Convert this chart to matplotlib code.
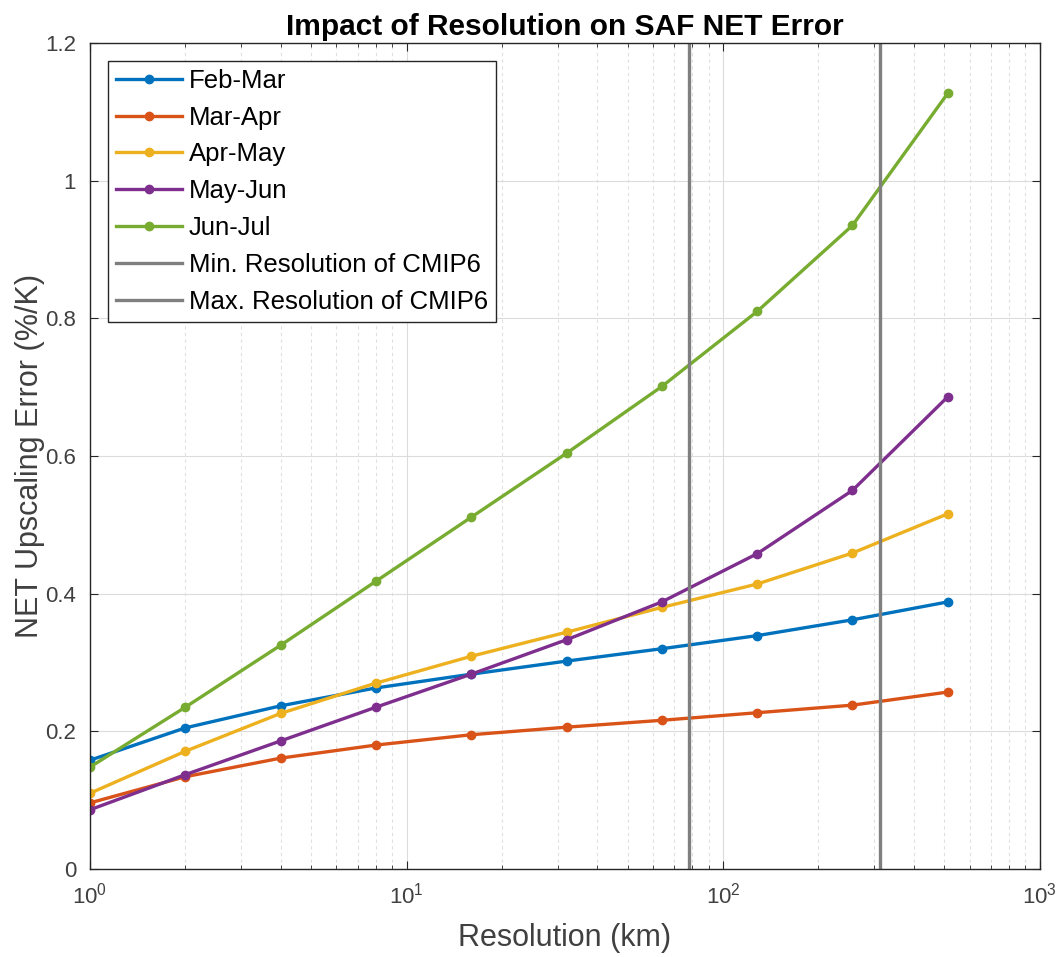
import matplotlib.pyplot as plt
import numpy as np

plt.rcParams['font.family'] = ['Liberation Sans', 'DejaVu Sans']
plt.rcParams['mathtext.fontset'] = 'custom'
plt.rcParams['mathtext.rm'] = 'Liberation Sans'
plt.rcParams['mathtext.it'] = 'Liberation Sans'
plt.rcParams['mathtext.default'] = 'regular'

# resolution steps (km)
res = [1, 2, 4, 8, 16, 32, 64, 128, 256, 512]

feb_mar = [0.158, 0.205, 0.237, 0.263, 0.283, 0.302, 0.320, 0.339, 0.362, 0.388]
mar_apr = [0.096, 0.134, 0.161, 0.180, 0.195, 0.206, 0.216, 0.227, 0.238, 0.257]
apr_may = [0.110, 0.171, 0.226, 0.270, 0.309, 0.344, 0.380, 0.414, 0.459, 0.516]
may_jun = [0.086, 0.137, 0.186, 0.235, 0.283, 0.333, 0.388, 0.458, 0.550, 0.686]
jun_jul = [0.148, 0.235, 0.325, 0.418, 0.511, 0.604, 0.701, 0.810, 0.935, 1.127]

labels = ['Feb-Mar', 'Mar-Apr', 'Apr-May', 'May-Jun', 'Jun-Jul']
colores = ['#0072BD', '#D95319', '#EDB120', '#7E2F8E', '#77AC30']

cmip6_min = 78
cmip6_max = 313

fig = plt.figure(figsize=(10.61, 9.57), dpi=100)
ax = fig.add_axes([0.0848, 0.092, 0.8952, 0.863])

series = [feb_mar, mar_apr, apr_may, may_jun, jun_jul]
for s, lab, c in zip(series, labels, colores):
    ax.plot(res, s, '-o', color=c, lw=2.4, ms=6, label=lab)

ax.axvline(cmip6_min, color='#7f7f7f', lw=2.4, label='Min. Resolution of CMIP6')
ax.axvline(cmip6_max, color='#7f7f7f', lw=2.4, label='Max. Resolution of CMIP6')

ax.set_xscale('log')
ax.set_xlim(1, 1000)
ax.set_ylim(0, 1.2)
ax.set_yticks(np.arange(0, 1.21, 0.2))
ax.set_yticklabels(['0', '0.2', '0.4', '0.6', '0.8', '1', '1.2'])
ax.set_xticks([1, 10, 100, 1000])
ax.set_xticklabels(['$10^0$', '$10^1$', '$10^2$', '$10^3$'])

ax.grid(True, which='major', color='#dcdcdc', lw=0.8)
ax.grid(True, which='minor', axis='x', color='#e0e0e0', lw=0.8, ls=(0, (3, 3)))
ax.set_axisbelow(True)

ax.tick_params(which='both', direction='in', top=True, right=True,
               labelsize=16, labelcolor='#404040', color='#262626')
ax.tick_params(which='major', length=6)
ax.tick_params(which='minor', length=3)
ax.tick_params(axis='x', pad=10)
ax.tick_params(axis='y', pad=10)
for sp in ax.spines.values():
    sp.set_color('#262626')
    sp.set_linewidth(1.0)

ax.set_xlabel('Resolution (km)', fontsize=22, color='#404040', labelpad=10)
ax.set_ylabel('NET Upscaling Error (%/K)', fontsize=22, color='#404040', labelpad=0)
ax.set_title('Impact of Resolution on SAF NET Error', fontsize=21.5, fontweight='bold', pad=6)

leg = ax.legend(loc='upper left', fontsize=18.5, frameon=True, fancybox=False,
                edgecolor='#262626', framealpha=1, borderpad=0.3,
                handlelength=2.6, handletextpad=0.25, labelspacing=0.5,
                borderaxespad=0.7)
leg.get_frame().set_linewidth(1.0)

plt.savefig('out.png', dpi=100)
